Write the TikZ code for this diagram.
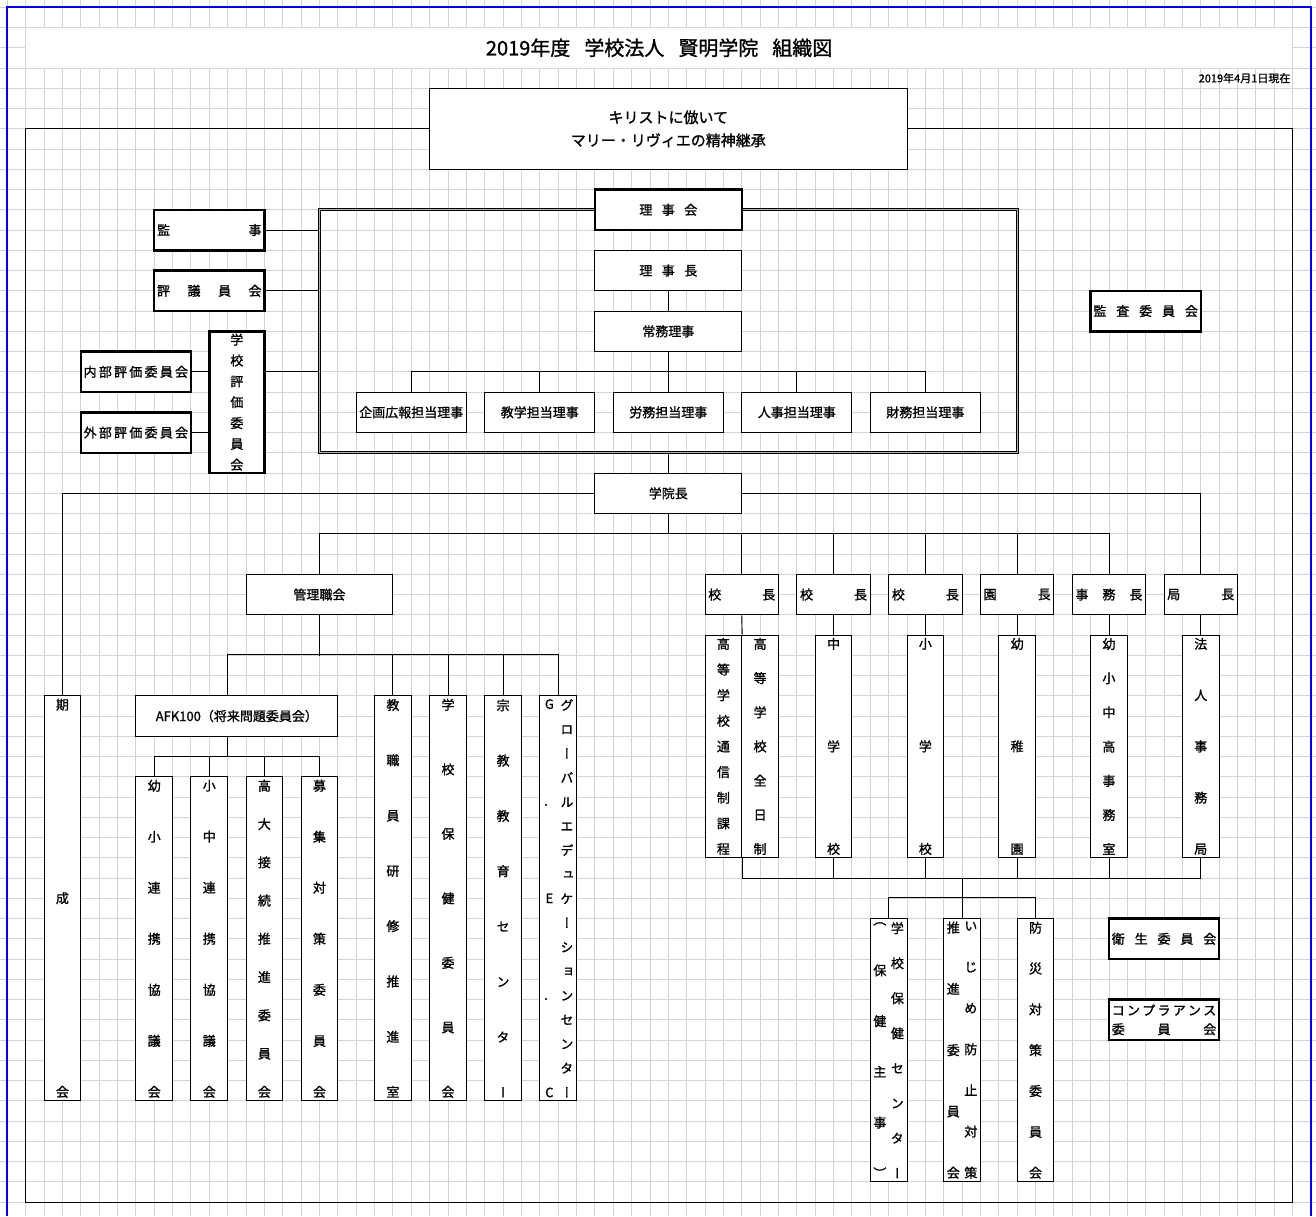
\documentclass[tikz,border=0pt]{standalone}
\usepackage{fontspec}
\setmainfont{Noto Sans CJK JP}[FakeBold=1.2]
\newfontfamily\vertfont[RawFeature={+vert},FakeBold=1.2]{Noto Sans CJK JP}
\definecolor{GridGray}{HTML}{D4D4D4}
\definecolor{PageBlue}{HTML}{0000E0}

% stacked characters, spread over a given height / width
\makeatletter
\newcommand\vcol[2]{%
  \parbox[c][#1][s]{1.35em}{\centering\vertfont
    \def\vsep{\def\vsep{\par\vfill}}%
    \@tfor\ch:=#2\do{\vsep\ch}}}
\newcommand\hcol[2]{%
  \makebox[#1][s]{\def\hsep{\def\hsep{\hfill}}%
    \@tfor\ch:=#2\do{\hsep\ch}}}
\makeatother

\tikzset{
  cell/.style={draw, fill=white, line width=0.9pt, inner sep=0pt,
    font=\fontsize{13}{15}\selectfont},
  thickcell/.style={cell, line width=2.4pt},
  wd/.style={minimum width=#1*18.36pt},
  ht/.style={minimum height=#1*20.25pt},
  link/.style={line width=0.9pt},
  gridline/.style={GridGray, line width=0.9pt}
}

\begin{document}
\begin{tikzpicture}[x=18.36pt, y=-20.25pt]
  \useasboundingbox (-1.3998,-0.3605) rectangle (70.277,59.689);
  % sheet grid
  \foreach \c in {-1,...,70} \draw[gridline] (\c,-0.4) -- (\c,59.7);
  \foreach \r in {0,...,59} \draw[gridline] (-1.4,\r) -- (70.3,\r);
  \fill[white] ([xshift=0.5pt,yshift=-0.5pt]0,1) rectangle ([xshift=-0.5pt,yshift=0.5pt]69,3);
  \draw[PageBlue, line width=2.2pt] (-1.035,59.7) -- (-1.035,0) -- (70,0) -- (70,59.7);
  \draw[line width=0.9pt] (0,6) rectangle (69,59);

  \node[font=\fontsize{20}{24}\selectfont] (title) at (34.5,2)
    {2019年度\hspace{0.7em}学校法人\hspace{0.7em}賢明学院\hspace{0.7em}組織図};
  \node[anchor=east, inner sep=2pt, font=\fontsize{11}{13}\selectfont] (asof) at (69,3.5) {2019年4月1日現在};
  \node[cell, wd=26, ht=4, align=center, font=\fontsize{15}{23}\selectfont] (motto) at (35,6)
    {キリストに倣いて\\マリー・リヴィエの精神継承};

  % board of directors
  \node[draw, double=gray!60, double distance=0.8pt, line width=1pt, wd=38, ht=12, inner sep=0pt] (board) at (35,16) {};
  \node[thickcell, wd=8, ht=2] (rijikai) at (35,10) {\hcol{58pt}{理事会}};
  \node[cell, wd=8, ht=2] (rijicho) at (35,13) {\hcol{58pt}{理事長}};
  \node[cell, wd=8, ht=2] (jomu) at (35,16) {常務理事};
  \node[cell, wd=6, ht=2] (kikaku) at (21,20) {企画広報担当理事};
  \node[cell, wd=6, ht=2] (kyogaku) at (28,20) {教学担当理事};
  \node[cell, wd=6, ht=2] (romu) at (35,20) {労務担当理事};
  \node[cell, wd=6, ht=2] (jinji) at (42,20) {人事担当理事};
  \node[cell, wd=6, ht=2] (zaimu) at (49,20) {財務担当理事};

  \node[thickcell, wd=6, ht=2] (kanji) at (10,11) {\hcol{104.5pt}{監事}};
  \node[thickcell, wd=6, ht=2] (hyogi) at (10,14) {\hcol{104.5pt}{評議員会}};
  \node[thickcell, wd=3, ht=7] (gakkohyoka) at (11.5,19.5) {\vcol{136pt}{学校評価委員会}};
  \node[thickcell, wd=6, ht=2] (naibu) at (6,18) {\hcol{104.5pt}{内部評価委員会}};
  \node[thickcell, wd=6, ht=2] (gaibu) at (6,21) {\hcol{104.5pt}{外部評価委員会}};
  \node[thickcell, wd=6, ht=2] (kansa) at (61,15) {\hcol{104.5pt}{監査委員会}};

  \node[cell, wd=8, ht=2] (gakuincho) at (35,24) {学院長};

  % management
  \node[cell, wd=8, ht=2] (kanrishoku) at (16,29) {管理職会};
  \node[cell, wd=2, ht=20] (kiseikai) at (2,44) {\vcol{398pt}{期成会}};
  \node[cell, wd=11, ht=2] (afk) at (11.5,35) {AFK100（将来問題委員会）};
  \node[cell, wd=2, ht=16] (youshou) at (7,46) {\vcol{317pt}{幼小連携協議会}};
  \node[cell, wd=2, ht=16] (shouchu) at (10,46) {\vcol{317pt}{小中連携協議会}};
  \node[cell, wd=2, ht=16] (koudai) at (13,46) {\vcol{317pt}{高大接続推進委員会}};
  \node[cell, wd=2, ht=16] (boshu) at (16,46) {\vcol{317pt}{募集対策委員会}};
  \node[cell, wd=2, ht=20] (kyoshokuin) at (20,44) {\vcol{398pt}{教職員研修推進室}};
  \node[cell, wd=2, ht=20] (hoken) at (23,44) {\vcol{398pt}{学校保健委員会}};
  \node[cell, wd=2, ht=20] (shukyo) at (26,44) {\vcol{398pt}{宗教教育センター}};
  \node[cell, wd=2, ht=20] (gec) at (29,44)
    {\vcol{398pt}{G{{\normalfont ．}}E{{\normalfont ．}}C}\vcol{398pt}{グローバルエデュケーションセンター}};

  % schools
  \node[cell, wd=4, ht=2] (kocho1) at (39,29) {\hcol{67pt}{校長}};
  \node[cell, wd=4, ht=2] (kocho2) at (44,29) {\hcol{67pt}{校長}};
  \node[cell, wd=4, ht=2] (kocho3) at (49,29) {\hcol{67pt}{校長}};
  \node[cell, wd=4, ht=2] (encho) at (54,29) {\hcol{67pt}{園長}};
  \node[cell, wd=4, ht=2] (jimucho) at (59,29) {\hcol{67pt}{事務長}};
  \node[cell, wd=4, ht=2] (kyokucho) at (64,29) {\hcol{67pt}{局長}};
  \node[cell, wd=2, ht=11] (tsushin) at (38,36.5) {\vcol{216pt}{高等学校通信制課程}};
  \node[cell, wd=2, ht=11] (zennichi) at (40,36.5) {\vcol{216pt}{高等学校全日制}};
  \node[cell, wd=2, ht=11] (chugaku) at (44,36.5) {\vcol{216pt}{中学校}};
  \node[cell, wd=2, ht=11] (shogaku) at (49,36.5) {\vcol{216pt}{小学校}};
  \node[cell, wd=2, ht=11] (yochien) at (54,36.5) {\vcol{216pt}{幼稚園}};
  \node[cell, wd=2, ht=11] (jimushitsu) at (59,36.5) {\vcol{216pt}{幼小中高事務室}};
  \node[cell, wd=2, ht=11] (hojin) at (64,36.5) {\vcol{216pt}{法人事務局}};

  \node[cell, wd=2, ht=13] (hokencenter) at (47,51.5)
    {\vcol{256pt}{︵保健主事︶}\vcol{256pt}{学校保健センター}};
  \node[cell, wd=2, ht=13] (ijime) at (51,51.5)
    {\vcol{256pt}{推進委員会}\vcol{256pt}{いじめ防止対策}};
  \node[cell, wd=2, ht=13] (bosai) at (55,51.5) {\vcol{256pt}{防災対策委員会}};
  \node[thickcell, wd=6, ht=2] (eisei) at (62,46) {\hcol{104.5pt}{衛生委員会}};
  \node[thickcell, wd=6, ht=2, align=center, font=\fontsize{13}{19}\selectfont] (compla) at (62,50)
    {\hcol{104.5pt}{コンプラアンス}\\\hcol{104.5pt}{委員会}};

  % connectors
  \draw[link] (kanji.east) -- (kanji.east -| board.west);
  \draw[link] (hyogi.east) -- (hyogi.east -| board.west);
  \draw[link] (naibu.east) -- (naibu.east -| gakkohyoka.west);
  \draw[link] (gaibu.east) -- (gaibu.east -| gakkohyoka.west);
  \draw[link] (gakkohyoka.east |- naibu.east) -- (board.west |- naibu.east);
  \draw[link] (rijicho.south) -- (jomu.north);
  \draw[link] (jomu.south) -- (romu.north);
  \draw[link] (kikaku.north) -- ++(0,-1) -| (zaimu.north);
  \foreach \n in {kyogaku,jinji} \draw[link] (\n.north) -- ++(0,-1);
  \draw[link] (board.south) -- (gakuincho.north);
  \draw[link] (gakuincho.west) -| (kiseikai.north);
  \draw[link] (gakuincho.east) -| (kyokucho.north);
  \draw[link] (gakuincho.south) -- ++(0,1);
  \draw[link] (kanrishoku.north) -- ++(0,-2) -| (jimucho.north);
  \foreach \n in {kocho1,kocho2,kocho3,encho} \draw[link] (\n.north) -- ++(0,-2);

  \draw[link] (kanrishoku.south) -- ++(0,2);
  \draw[link] ([xshift=-9.18pt]afk.north) -- ++(0,-2) -| (gec.north);
  \foreach \n in {kyoshokuin,hoken,shukyo} \draw[link] (\n.north) -- ++(0,-2);
  \draw[link] ([xshift=-9.18pt]afk.south) -- ++(0,1);
  \draw[link] (youshou.north) -- ++(0,-1) -| (boshu.north);
  \foreach \n in {shouchu,koudai} \draw[link] (\n.north) -- ++(0,-1);

  \draw[link] (kocho1.south) -- (tsushin.north east);
  \foreach \k/\s in {kocho2/chugaku,kocho3/shogaku,encho/yochien,jimucho/jimushitsu,kyokucho/hojin}
    \draw[link] (\k.south) -- (\s.north);
  \draw[link] (tsushin.south east) -- ++(0,1) -| (hojin.south);
  \foreach \s in {chugaku,shogaku,yochien,jimushitsu} \draw[link] (\s.south) -- ++(0,1);
  \draw[link] (ijime.north) -- ++(0,-2);
  \draw[link] (hokencenter.north) -- ++(0,-1) -| (bosai.north);
\end{tikzpicture}
\end{document}
